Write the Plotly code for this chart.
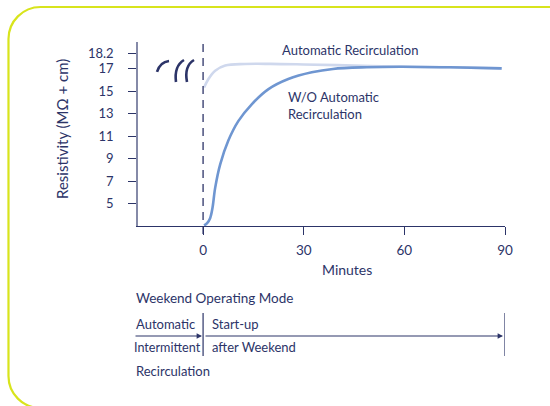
import plotly.graph_objects as go

# ---- data ----
minutes_auto = [0.3, 1.6, 3.6, 6.6, 12.5, 20, 30, 45, 60, 73.6, 89]
res_auto = [15.35, 16.1, 16.84, 17.3, 17.44, 17.45, 17.4, 17.3, 17.2, 17.15, 17.05]

minutes_wo = [0.3, 1.2, 2.1, 2.8, 3.6, 5.1, 7.5, 10.5, 14.5, 19.5, 25.4, 32.4, 38.7, 48.8, 58.7, 73.6, 89]
res_wo = [3.05, 3.25, 3.7, 4.6, 6.4, 8.5, 10.6, 12.35, 13.85, 15.2, 16.1, 16.7, 17.0, 17.15, 17.2, 17.15, 17.05]

x_ticks = [0, 30, 60, 90]
# the reference draws its top tick (18.2) slightly above its linear place
y_ticks = [5, 7, 9, 11, 13, 15, 17, 18.4]
y_ticklabels = ["5", "7", "9", "11", "13", "15", "17", "18.2"]

NAVY = "#2c3468"
FONT = "Lato"

# plot-area geometry (pixels) for decoration placement
L, R, T, B = 138, 505, 42, 226


def px(x, y):
    return (x - L) / (R - L), (B - y) / (B - T)


def pt(x, y):
    a, b = px(x, y)
    return f"{a:.4f},{b:.4f}"


fig = go.Figure()
fig.add_trace(go.Scatter(x=minutes_auto, y=res_auto, mode="lines",
                         line=dict(color="#cfd8ed", width=2.6, shape="spline"),
                         hoverinfo="skip", showlegend=False))
fig.add_trace(go.Scatter(x=minutes_wo, y=res_wo, mode="lines",
                         line=dict(color="#6f96d1", width=2.6, shape="spline"),
                         hoverinfo="skip", showlegend=False))

shapes = []
# dashed line at t=0
shapes.append(dict(type="line", xref="x", yref="paper", x0=0, x1=0,
                   y0=px(0, 234)[1], y1=px(0, 40)[1],
                   line=dict(color=NAVY, width=1.3, dash="8px,6px")))
# break marks
for p in [f"M{pt(157,72)} Q{pt(160,62)} {pt(169,61)}",
          f"M{pt(184,60)} Q{pt(174,66)} {pt(176,82)}",
          f"M{pt(194,60)} Q{pt(184,66)} {pt(187,82)}"]:
    shapes.append(dict(type="path", xref="paper", yref="paper", path=p,
                       line=dict(color=NAVY, width=2.6)))
# lower timeline dividers
for xx in [0, 90]:
    shapes.append(dict(type="line", xref="x", yref="paper", x0=xx, x1=xx,
                       y0=px(0, 356)[1], y1=px(0, 313)[1],
                       line=dict(color=NAVY, width=1.2)))
# rounded yellow-green border
k = 0.552 * 32
border = (f"M{pt(600,7)} L{pt(40.5,7)} C{pt(40.5-k,7)} {pt(8.5,39-k)} {pt(8.5,39)} "
          f"L{pt(8.5,376)} C{pt(8.5,376+k)} {pt(40.5-k,408)} {pt(40.5,408)} L{pt(600,408)}")
shapes.append(dict(type="path", xref="paper", yref="paper", path=border,
                   line=dict(color="#d8e41c", width=2.2)))

ann = []


def text(x, y, s, size=13, xanchor="left", **kw):
    a, b = px(x, y)
    ann.append(dict(x=a, y=b, xref="paper", yref="paper", text=s, showarrow=False,
                    xanchor=xanchor, yanchor="middle", align="left",
                    font=dict(family=FONT, size=size, color=NAVY), **kw))


text(350, 50, "Automatic Recirculation", xanchor="center")
text(286, 105, "W/O Automatic<br>Recirculation")
text(62, 129, "Resistivity (MΩ + cm)", size=15, xanchor="center", textangle=-90)
text(347, 269, "Minutes", size=14, xanchor="center")
text(134, 298, "Weekend Operating Mode", size=13.5)
text(134, 324, "Automatic", size=13)
text(132, 347, "Intermittent", size=12.6)
text(134, 371, "Recirculation", size=13)
text(210, 324, "Start-up", size=13)
text(210, 347, "after Weekend", size=13)

# arrows
for x_tail, x_head in [(134, 202), (204, 503)]:
    a, b = px(x_head, 336)
    ann.append(dict(x=a, y=b, xref="paper", yref="paper", text="", showarrow=True,
                    axref="pixel", ayref="pixel", ax=-(x_head - x_tail), ay=0,
                    arrowhead=2, arrowsize=0.9, arrowwidth=1.2, arrowcolor=NAVY))

fig.update_layout(
    width=550, height=406,
    margin=dict(l=L, r=550 - R, t=T, b=406 - B),
    paper_bgcolor="white", plot_bgcolor="white",
    font=dict(family=FONT, color=NAVY, size=13),
    shapes=shapes, annotations=ann,
    xaxis=dict(range=[-19.4, 90], tickvals=x_ticks, ticks="outside", ticklen=8,
               tickcolor=NAVY, tickwidth=1.2, showline=True, linecolor=NAVY,
               linewidth=1.3, showgrid=False, zeroline=False,
               tickfont=dict(family=FONT, size=13.5, color=NAVY), ticklabelstandoff=4),
    yaxis=dict(range=[3, 19.4], tickvals=y_ticks, ticktext=y_ticklabels,
               ticks="outside", ticklen=8, tickcolor=NAVY, tickwidth=1.2,
               showline=True, linecolor="#858aa8", linewidth=1.6,
               showgrid=False, zeroline=False,
               tickfont=dict(family=FONT, size=13, color=NAVY), ticklabelstandoff=12),
)

fig.write_html("out.html", config={"displayModeBar": False},
               post_script="document.body.style.margin='0';document.body.style.padding='0';")
